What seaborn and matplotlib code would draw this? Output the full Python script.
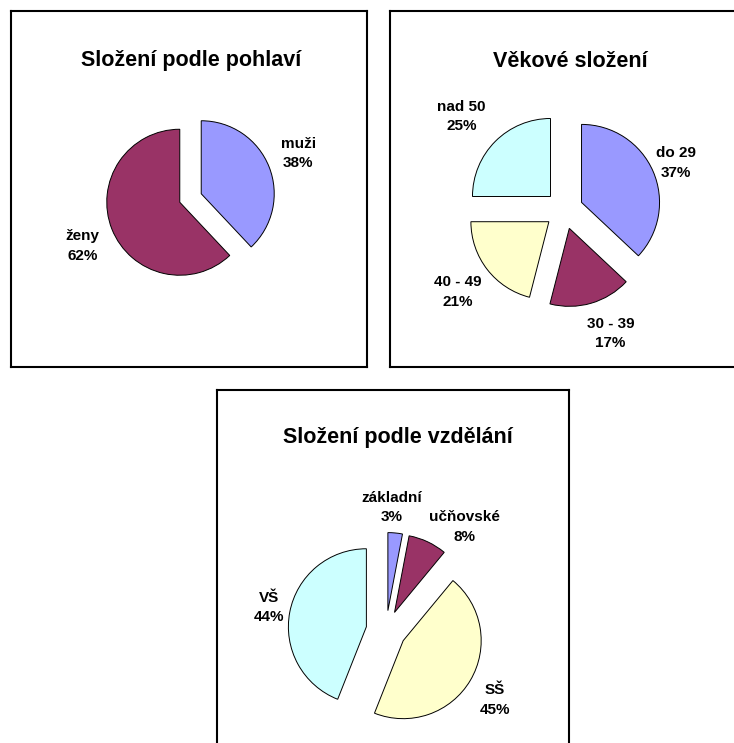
import matplotlib
matplotlib.use("Agg")
import matplotlib.pyplot as plt
import seaborn as sns
import numpy as np

# ---- data ----
gender_titles = "Složení podle pohlaví"
gender_labels = ["muži", "ženy"]
gender_values = [38, 62]

age_title = "Věkové složení"
age_labels = ["do 29", "30 - 39", "40 - 49", "nad 50"]
age_values = [37, 17, 21, 25]

edu_title = "Složení podle vzdělání"
edu_labels = ["základní", "učňovské", "SŠ", "VŠ"]
edu_values = [3, 8, 45, 44]

# ---- style ----
sns.set_theme(style="white")
plt.rcParams['font.family'] = ['Liberation Sans', 'DejaVu Sans']

C_BLUE = "#9999FF"
C_PLUM = "#993366"
C_YELLOW = "#FFFFCC"
C_CYAN = "#CCFFFF"

W, H = 734, 743
fig = plt.figure(figsize=(W / 100, H / 100), dpi=100)
fig.patch.set_facecolor("white")


def panel(rect):
    x0, y0, x1, y1 = rect
    ax = fig.add_axes([x0 / W, 1 - y1 / H, (x1 - x0) / W, (y1 - y0) / H])
    return ax, rect


def finish(ax, rect):
    x0, y0, x1, y1 = rect
    ax.set_aspect("auto")
    ax.set_xlim(x0, x1)
    ax.set_ylim(y1, y0)
    ax.set_xticks([])
    ax.set_yticks([])
    ax.set_frame_on(True)
    for s in ax.spines.values():
        s.set_visible(True)
        s.set_color("black")
        s.set_linewidth(1.5)
    ax.set_facecolor("white")


def draw_pie(ax, rect, title, title_xy, labels, values, colors, center, radius,
             explode_frac, label_offsets):
    # matplotlib's explode offset is in data units -> scale by radius
    explode = [e * radius for e in explode_frac]
    wedges, _ = ax.pie(values, colors=colors, center=center, radius=radius,
                       startangle=-90, counterclock=True, explode=explode,
                       frame=True,
                       wedgeprops=dict(edgecolor="black", linewidth=0.7))
    # label placement relative to each (exploded) wedge apex, in radius units
    for w, lab, v, (ox, oy) in zip(wedges, labels, values, label_offsets):
        cx, cy = w.center
        ax.text(cx + ox * w.r, cy + oy * w.r,
                f"{lab}\n{v}%", ha="center", va="center", fontsize=11,
                fontweight="bold", linespacing=1.5, color="black")
    ax.text(title_xy[0], title_xy[1], title, ha="center", va="baseline",
            fontsize=15.5, fontweight="bold", color="black")
    finish(ax, rect)


ax1, r1 = panel((11, 11, 367.5, 366.5))
draw_pie(ax1, r1, gender_titles, (191, 66.5), gender_labels, gender_values,
         [C_BLUE, C_PLUM], (190.5, 198), 73, [0.158, 0.158],
         [(1.33, -0.55), (-1.33, 0.60)])

ax2, r2 = panel((390, 11, 745, 366.5))
draw_pie(ax2, r2, age_title, (570, 67), age_labels, age_values,
         [C_BLUE, C_PLUM, C_YELLOW, C_CYAN], (564, 210), 78,
         [0.245] * 4,
         [(1.205, -0.506), (0.526, 1.346), (-1.167, 0.904), (-1.141, -1.026)])

ax3, r3 = panel((217, 390, 569, 760))
draw_pie(ax3, r3, edu_title, (397.5, 443), edu_labels, edu_values,
         [C_BLUE, C_PLUM, C_YELLOW, C_CYAN], (386, 630.5), 78,
         [0.256] * 4,
         [(0.051, -1.32), (0.897, -1.096), (1.179, 0.763), (-1.244, -0.244)])

fig.savefig("out.png", dpi=100, facecolor="white")
